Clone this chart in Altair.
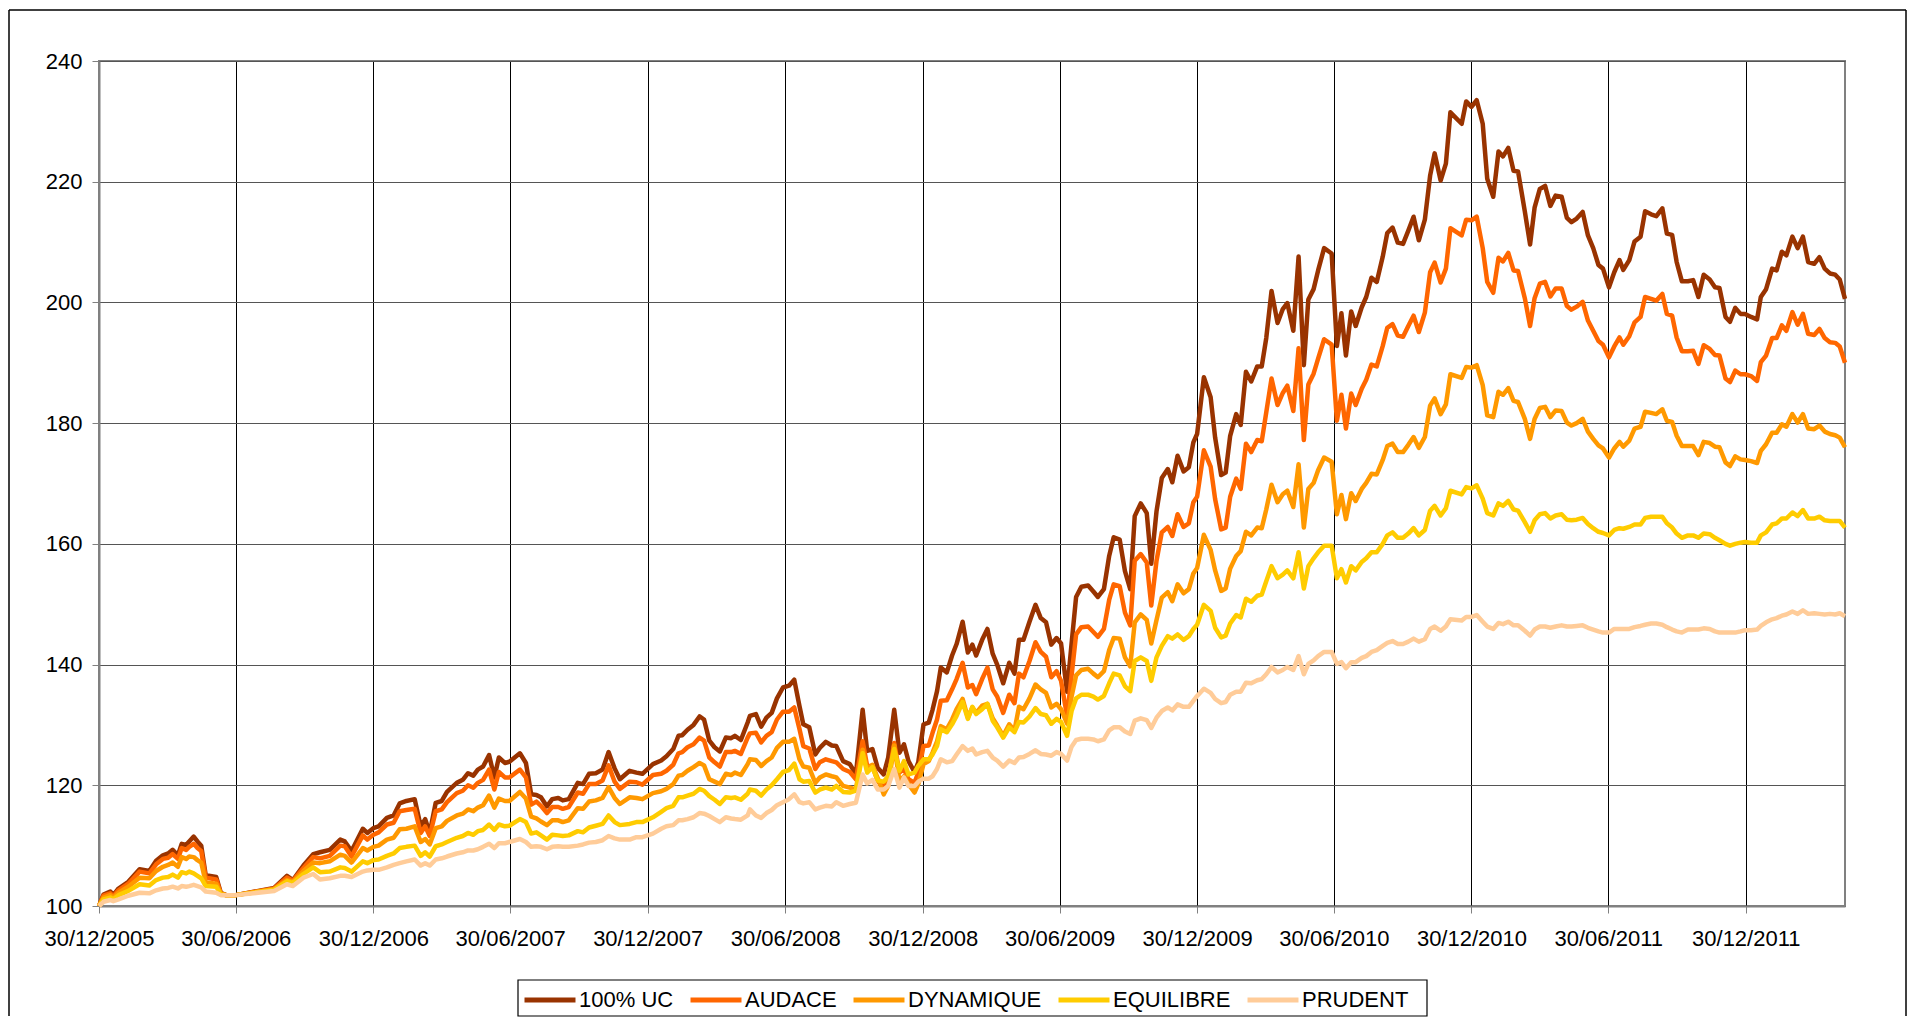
import altair as alt
import pandas as pd

START = "2005-12-30"

# day offsets from 30/12/2005 (common to all series)
DAYS = [
    0, 6, 15, 19, 26, 39, 54, 67, 76, 85, 92, 98, 105, 110, 116, 120, 126, 131, 136, 142, 156, 162, 169, 182, 233, 250, 258, 272, 285,
    294, 307, 321, 327, 336, 351, 357, 365, 372, 383, 392, 400, 409, 420, 428, 434, 440, 448, 456, 463, 476, 484, 491, 498, 504, 511, 519, 526, 532, 540, 546, 560, 568, 575,
    582, 588, 596, 603, 611, 617, 625, 637, 644, 652, 661, 670, 678, 686, 693, 706, 715, 723, 737, 748, 755, 764, 771, 776, 783, 791, 799, 805, 812, 819, 826, 834, 841, 846, 854, 863,
    866, 874, 881, 888, 895, 902, 910, 918, 925, 932, 937, 945, 953, 959, 967, 975, 981, 990, 999, 1007, 1016, 1022, 1029, 1036, 1044, 1050, 1058, 1065, 1071, 1077, 1085, 1090, 1097, 1104, 1109, 1115, 1120, 1128, 1135, 1141, 1149, 1156,
    1162, 1167, 1175, 1182, 1189, 1195, 1203, 1211, 1218, 1224, 1230, 1238, 1246, 1253, 1260, 1267, 1274, 1280, 1288, 1294, 1300, 1307, 1316, 1323, 1329, 1337, 1344, 1350, 1358, 1365, 1372, 1378, 1386, 1394, 1400, 1407, 1414, 1422, 1428, 1435, 1443, 1450, 1456, 1461,
    1470, 1479, 1485, 1493, 1499, 1505, 1513, 1519, 1526, 1533, 1541, 1547, 1553, 1560, 1568, 1575, 1581, 1589, 1596, 1603, 1609, 1616, 1622, 1630, 1640, 1647, 1653, 1659, 1666, 1672, 1680, 1686, 1693, 1700, 1708, 1714, 1721, 1728, 1735, 1742, 1749, 1756,
    1764, 1771, 1777, 1785, 1792, 1798, 1813, 1819, 1826, 1833, 1841, 1847, 1855, 1862, 1868, 1875, 1882, 1888, 1897, 1904, 1910, 1917, 1924, 1931, 1938, 1946, 1953, 1959, 1966, 1974, 1981, 1988, 1995, 2001, 2009, 2016, 2023, 2028, 2036,
    2043, 2051, 2057, 2065, 2072, 2080, 2086, 2093, 2099, 2106, 2114, 2121, 2128, 2135, 2143, 2150, 2156, 2164, 2170, 2177, 2184, 2190, 2198, 2206, 2211, 2218, 2226, 2232, 2239, 2245, 2253, 2260, 2267, 2274, 2282, 2289, 2296, 2303, 2310, 2316, 2323,
]

UC = [
    100, 101.9, 102.4, 101.8, 102.9, 104.0, 106.1, 105.8, 107.5, 108.4, 108.7, 109.3, 108.4, 110.3, 110.1, 110.7, 111.5, 110.7, 110.0, 105.1, 104.8, 102.2, 101.8, 101.8, 103.0, 105.0, 104.3, 106.7, 108.6,
    108.9, 109.3, 111.0, 110.7, 109.1, 112.8, 112.1, 112.9, 113.2, 114.6, 115.0, 117.0, 117.4, 117.7, 113.2, 114.4, 112.1, 117.1, 117.4, 118.9, 120.4, 120.9, 122.0, 121.6, 122.6, 123.1, 125.0, 121.3, 124.6, 123.7, 123.9, 125.3, 123.7, 118.5,
    118.4, 118.0, 116.5, 117.7, 117.9, 117.5, 117.7, 120.4, 120.2, 121.9, 122.0, 122.6, 125.5, 122.8, 121.0, 122.4, 122.1, 121.9, 123.5, 124.1, 124.8, 126.0, 128.2, 128.3, 129.2, 130.0, 131.4, 130.9, 127.4, 126.3, 125.6, 127.9, 127.8, 128.2, 127.5, 130.4,
    131.5, 131.8, 129.7, 131.2, 132.0, 134.4, 136.2, 136.5, 137.5, 133.1, 130.1, 129.6, 125.1, 126.2, 127.2, 126.6, 126.5, 124.0, 123.5, 121.8, 132.5, 125.7, 126.0, 122.9, 121.8, 124.6, 132.5, 125.4, 126.8, 124.0, 122.2, 123.8, 130.1, 130.4, 132.5, 135.6, 139.5, 138.7, 141.5, 143.4, 147.1, 142.0,
    143.3, 141.5, 144.1, 145.9, 141.8, 140.0, 136.9, 140.3, 138.5, 144.1, 144.1, 147.1, 149.9, 147.7, 147.0, 143.3, 144.4, 143.5, 135.5, 143.5, 151.2, 152.9, 153.1, 152.1, 151.2, 152.5, 158.0, 161.1, 160.7, 155.5, 152.5, 164.6, 166.7, 165.1, 156.7, 165.4, 170.9, 172.4, 170.2, 174.6, 172.0, 172.7, 176.8, 178.2,
    187.6, 184.3, 177.6, 171.4, 171.8, 177.9, 181.5, 179.7, 188.5, 186.9, 189.4, 189.4, 194.1, 201.9, 196.6, 198.9, 199.9, 195.3, 207.6, 189.6, 200.5, 202.2, 205.3, 209.0, 208.1, 192.8, 198.2, 191.2, 198.5, 196.1, 199.2, 200.9, 204.1, 203.4, 207.6, 211.5, 212.4, 209.9, 209.7, 211.9, 214.2, 210.3,
    213.7, 221.0, 224.7, 220.2, 223.0, 231.5, 229.6, 233.3, 232.4, 233.5, 229.6, 220.5, 217.5, 225.0, 224.2, 225.6, 221.8, 221.7, 215.1, 209.6, 215.7, 218.8, 219.3, 216.0, 217.7, 217.5, 214.0, 213.3, 213.9, 215.0, 211.1, 209.0, 206.2, 205.6, 202.5, 205.0, 207.0, 205.4, 207.0,
    210.1, 210.9, 215.1, 214.6, 214.3, 215.6, 211.4, 211.2, 206.7, 203.5, 203.5, 203.7, 200.9, 204.6, 203.8, 202.5, 202.4, 197.6, 196.8, 199.1, 198.1, 198.1, 197.6, 197.2, 200.9, 202.2, 205.6, 205.3, 208.4, 207.8, 210.9, 209.0, 210.9, 206.7, 206.4, 207.5, 205.6, 204.8, 204.6, 203.8, 200.6,
]

AUDACE = [
    100, 101.7, 102.1, 101.6, 102.6, 103.7, 105.7, 105.4, 106.9, 107.8, 108.0, 108.6, 107.8, 109.6, 109.3, 109.8, 110.3, 109.6, 109.1, 104.7, 104.4, 102.1, 101.8, 101.8, 102.9, 104.7, 104.2, 106.3, 108.1,
    107.9, 108.3, 110.0, 109.9, 108.2, 111.7, 111.0, 111.8, 112.2, 113.5, 113.8, 115.7, 115.9, 116.1, 112.1, 113.2, 111.6, 115.7, 116.0, 117.2, 118.7, 119.1, 120.0, 119.6, 120.4, 120.9, 122.6, 119.3, 122.2, 121.3, 121.3, 122.6, 121.3, 116.8,
    117.3, 116.6, 115.4, 116.4, 116.4, 116.1, 116.4, 118.8, 118.6, 120.2, 120.2, 120.8, 123.3, 120.6, 119.4, 120.6, 120.5, 120.1, 121.7, 121.9, 122.4, 123.4, 125.3, 125.5, 126.3, 126.8, 127.9, 127.4, 124.6, 123.8, 123.1, 125.5, 125.5, 125.7, 125.2, 127.9,
    128.6, 128.7, 127.1, 128.2, 128.8, 130.9, 132.2, 132.2, 132.9, 129.3, 126.5, 126.1, 122.7, 123.8, 124.3, 124.0, 123.8, 122.7, 122.2, 121.0, 127.3, 123.2, 123.2, 120.7, 119.6, 121.1, 127.0, 122.1, 122.7, 121.0, 120.4, 122.1, 126.5, 126.6, 128.7, 130.9, 134.0, 134.1, 135.9, 137.6, 140.3, 136.2,
    136.6, 135.1, 137.6, 139.5, 135.9, 134.7, 132.0, 135.0, 133.6, 138.5, 137.9, 140.6, 143.7, 142.1, 141.3, 137.9, 138.9, 137.3, 131.4, 138.2, 145.0, 146.2, 146.3, 145.4, 144.6, 145.9, 150.7, 153.3, 153.0, 148.6, 146.5, 157.2, 158.3, 156.9, 149.8, 157.2, 161.9, 162.8, 161.3, 164.9, 162.8, 163.4, 166.9, 167.8,
    175.5, 172.8, 167.4, 162.4, 162.7, 167.8, 170.8, 169.1, 176.6, 175.2, 177.2, 177.0, 181.8, 187.4, 183.0, 185.0, 186.2, 182.0, 192.4, 177.2, 186.4, 188.2, 190.7, 193.9, 193.0, 180.4, 184.7, 179.1, 184.9, 183.0, 185.7, 187.2, 189.7, 189.4, 192.8, 195.8, 196.4, 194.5, 194.3, 196.1, 197.8, 195.1,
    198.3, 205.0, 206.6, 203.3, 205.6, 212.3, 211.1, 213.7, 213.6, 214.2, 209.0, 203.4, 201.6, 207.4, 206.8, 208.2, 205.3, 205.2, 200.7, 196.1, 200.7, 203.1, 203.4, 201.0, 202.3, 202.3, 199.4, 198.8, 199.3, 200.1, 197.0, 195.3, 193.6, 193.0, 190.9, 192.7, 194.2, 193.0, 194.4,
    196.7, 197.6, 200.9, 200.6, 200.3, 201.4, 198.1, 197.8, 194.2, 191.9, 191.9, 192.0, 189.8, 192.9, 192.3, 191.3, 191.2, 187.4, 186.8, 188.7, 188.1, 188.1, 187.8, 187.0, 190.1, 191.2, 194.1, 194.1, 196.2, 195.3, 198.4, 196.3, 198.1, 194.8, 194.6, 195.6, 194.1, 193.4, 193.3, 192.7, 190.0,
]

DYNAMIQUE = [
    100, 101.4, 101.8, 101.4, 102.2, 103.2, 104.7, 104.6, 105.8, 106.5, 106.8, 107.2, 106.5, 108.1, 107.8, 108.2, 108.1, 107.6, 107.2, 103.9, 103.7, 102.1, 101.8, 101.8, 102.8, 104.3, 104.0, 105.8, 107.2,
    107.1, 107.4, 108.5, 108.3, 107.2, 109.6, 109.2, 109.8, 110.0, 111.0, 111.3, 112.7, 112.8, 113.2, 110.6, 111.1, 110.2, 112.9, 113.2, 114.1, 115.0, 115.3, 116.0, 115.7, 116.3, 116.7, 118.3, 116.3, 117.8, 117.4, 117.4, 118.9, 117.8, 114.8,
    114.5, 114.0, 113.4, 114.2, 114.2, 113.9, 114.2, 116.2, 116.1, 117.3, 117.5, 117.9, 119.7, 117.9, 116.9, 118.0, 117.9, 117.7, 118.7, 119.0, 119.4, 120.2, 121.6, 121.7, 122.4, 123.0, 123.7, 123.3, 121.0, 120.6, 120.2, 121.9, 121.7, 122.1, 121.7, 123.5,
    124.3, 124.2, 123.2, 124.0, 124.6, 126.2, 127.2, 127.2, 127.7, 124.3, 123.1, 122.9, 120.4, 121.3, 121.8, 121.5, 121.3, 119.9, 119.6, 119.3, 125.9, 122.6, 123.4, 121.2, 118.5, 119.9, 126.6, 120.7, 121.5, 120.2, 118.8, 120.2, 123.5, 124.0, 125.4, 127.3, 129.8, 129.3, 130.9, 132.6, 134.3, 131.2,
    132.9, 132.0, 133.2, 133.5, 131.1, 129.9, 128.2, 130.1, 129.1, 133.0, 132.6, 134.4, 136.7, 135.9, 135.3, 132.9, 133.5, 132.6, 130.2, 134.7, 138.2, 139.1, 139.3, 138.5, 137.9, 138.9, 142.4, 144.4, 144.3, 141.2, 139.7, 147.0, 148.3, 147.4, 143.5, 147.4, 151.1, 152.0, 150.5, 153.3, 151.8, 152.5, 155.1, 156.0,
    161.5, 159.0, 155.6, 152.2, 152.6, 155.9, 158.0, 158.8, 162.0, 161.4, 162.7, 162.6, 165.7, 169.8, 166.9, 168.2, 168.8, 166.1, 173.2, 162.7, 169.1, 170.1, 172.2, 174.3, 173.6, 164.9, 168.1, 164.1, 168.4, 167.1, 169.1, 170.1, 171.6, 171.5, 173.9, 176.2, 176.6, 175.2, 175.2, 176.4, 177.7, 175.9,
    177.7, 182.9, 184.1, 181.5, 183.1, 188.1, 187.5, 189.3, 189.2, 189.6, 186.3, 181.3, 181.0, 185.2, 184.7, 185.8, 183.7, 183.5, 180.7, 177.4, 180.7, 182.5, 182.7, 181.0, 182.1, 182.0, 180.1, 179.6, 180.0, 180.7, 178.6, 177.4, 176.3, 175.8, 174.3, 175.8, 176.9, 176.1, 177.1,
    179.1, 179.4, 181.9, 181.7, 181.5, 182.3, 180.4, 180.2, 177.9, 176.2, 176.2, 176.2, 174.7, 176.9, 176.7, 176.1, 176.0, 173.5, 172.9, 174.5, 174.0, 173.9, 173.7, 173.4, 175.4, 176.5, 178.4, 178.4, 179.8, 179.4, 181.5, 180.1, 181.5, 179.1, 179.0, 179.6, 178.6, 178.2, 178.0, 177.6, 176.0,
]

EQUILIBRE = [
    100, 101.1, 101.4, 101.1, 101.8, 102.5, 103.6, 103.4, 104.3, 104.7, 104.8, 105.2, 104.7, 105.6, 105.4, 105.7, 105.4, 105.0, 104.6, 103.3, 103.2, 101.9, 101.8, 101.8, 102.7, 104.1, 103.8, 105.3, 106.4,
    105.6, 105.7, 106.4, 106.3, 105.7, 107.4, 107.1, 107.6, 107.7, 108.3, 108.7, 109.6, 109.8, 110.0, 108.3, 108.9, 108.2, 109.9, 110.2, 110.6, 111.3, 111.6, 112.1, 111.8, 112.4, 112.6, 113.5, 112.6, 113.5, 113.2, 113.3, 114.4, 113.9, 112.0,
    112.2, 111.7, 111.0, 111.8, 111.7, 111.6, 111.7, 112.4, 112.2, 113.0, 113.3, 113.6, 115.0, 113.9, 113.4, 113.6, 113.9, 113.9, 114.7, 115.6, 116.2, 116.6, 118.0, 118.0, 118.3, 118.6, 119.4, 119.1, 118.2, 117.6, 116.9, 118.0, 117.9, 118.0, 117.6, 118.6,
    119.3, 119.1, 118.3, 119.3, 120.0, 121.0, 122.2, 122.5, 123.6, 121.0, 120.6, 120.7, 118.8, 119.3, 119.6, 119.3, 119.9, 118.9, 118.8, 119.1, 125.3, 122.1, 123.0, 120.8, 120.6, 121.5, 126.0, 122.4, 124.0, 121.8, 122.1, 123.2, 124.3, 124.3, 125.1, 126.5, 129.3, 128.8, 130.1, 131.5, 133.8, 131.0,
    133.0, 131.8, 132.6, 133.5, 130.7, 129.6, 127.9, 129.6, 128.8, 130.5, 130.4, 131.4, 132.8, 131.8, 131.6, 130.2, 131.0, 130.5, 128.2, 132.3, 134.4, 135.0, 135.0, 134.7, 134.2, 134.8, 136.9, 138.5, 138.2, 136.4, 135.6, 140.6, 141.2, 140.6, 137.3, 141.2, 143.1, 144.7, 144.3, 145.0, 144.1, 144.7, 145.9, 146.6,
    149.9, 148.9, 146.1, 144.5, 144.8, 146.8, 148.2, 147.8, 150.9, 150.4, 151.4, 151.6, 153.8, 156.3, 154.3, 154.9, 155.6, 154.3, 158.6, 152.6, 156.3, 157.6, 158.6, 159.7, 159.7, 154.3, 155.8, 153.6, 156.3, 155.6, 157.0, 157.6, 158.6, 158.6, 160.0, 161.4, 161.9, 161.0, 161.0, 161.7, 162.6, 161.4,
    162.3, 165.5, 166.3, 164.7, 165.9, 168.8, 168.2, 169.4, 169.2, 169.7, 167.5, 165.1, 164.7, 166.7, 166.3, 167.1, 165.7, 165.5, 163.6, 162.0, 163.9, 164.9, 165.1, 164.2, 164.7, 164.9, 164.0, 163.9, 164.0, 164.3, 163.3, 162.6, 162.0, 161.8, 161.4, 162.3, 162.6, 162.5, 162.8,
    163.2, 163.2, 164.3, 164.5, 164.5, 164.5, 163.4, 162.7, 161.7, 161.0, 161.4, 161.4, 161.0, 161.7, 161.6, 161.0, 160.6, 160.0, 159.7, 160.0, 160.2, 160.3, 160.2, 160.2, 161.4, 161.9, 163.2, 163.4, 164.2, 164.2, 165.2, 164.6, 165.6, 164.2, 164.2, 164.5, 163.9, 163.8, 163.8, 163.8, 162.7,
]

PRUDENT = [
    100, 100.7, 101.0, 100.8, 101.1, 101.7, 102.2, 102.1, 102.6, 102.9, 103.0, 103.2, 102.9, 103.3, 103.2, 103.3, 103.5, 103.3, 103.1, 102.4, 102.2, 101.8, 101.8, 101.8, 102.5, 103.6, 103.3, 104.7, 105.3,
    104.4, 104.6, 105.0, 105.0, 104.8, 105.7, 105.9, 106.0, 106.0, 106.4, 106.8, 107.1, 107.4, 107.7, 106.7, 107.1, 106.7, 107.7, 107.9, 108.2, 108.7, 108.9, 109.2, 109.2, 109.4, 109.8, 110.3, 109.6, 110.4, 110.4, 110.6, 111.1, 110.6, 109.8,
    109.9, 109.8, 109.4, 109.8, 109.9, 109.8, 109.8, 110.0, 110.2, 110.5, 110.6, 110.9, 111.6, 111.2, 111.0, 111.0, 111.4, 111.4, 112.0, 112.8, 113.2, 113.4, 114.2, 114.2, 114.4, 114.7, 115.4, 115.3, 114.9, 114.4, 113.9, 114.7, 114.5, 114.4, 114.3, 115.0,
    116.0, 115.0, 114.6, 115.4, 115.9, 116.7, 117.2, 117.7, 118.5, 117.2, 117.0, 117.2, 116.0, 116.3, 116.6, 116.5, 117.2, 116.6, 116.9, 117.1, 121.8, 120.3, 120.9, 119.3, 119.3, 119.9, 122.7, 119.6, 121.3, 119.9, 119.9, 120.6, 121.1, 121.1, 121.5, 122.7, 124.3, 123.8, 124.0, 125.1, 126.5, 125.7,
    126.1, 125.1, 125.5, 125.7, 124.6, 124.1, 123.1, 124.1, 123.7, 124.6, 124.7, 125.2, 125.8, 125.2, 125.1, 124.9, 125.5, 125.2, 124.1, 126.4, 127.5, 127.7, 127.7, 127.6, 127.3, 127.6, 129.1, 129.6, 129.6, 128.9, 128.5, 130.7, 131.1, 130.8, 129.5, 131.2, 132.3, 132.9, 132.4, 133.4, 133.0, 133.0, 134.0, 134.8,
    136.0, 135.3, 134.3, 133.6, 133.8, 135.0, 135.5, 135.5, 137.0, 136.9, 137.4, 137.6, 138.4, 139.6, 138.7, 139.1, 139.6, 139.1, 141.4, 138.4, 140.1, 140.7, 141.4, 142.1, 142.1, 140.1, 140.4, 139.4, 140.4, 140.4, 141.1, 141.4, 142.1, 142.4, 143.1, 143.6, 143.9, 143.4, 143.4, 143.8, 144.3, 143.8,
    144.2, 145.9, 146.3, 145.6, 146.3, 147.5, 147.3, 147.9, 147.9, 148.2, 147.1, 146.3, 145.9, 146.9, 146.7, 147.1, 146.5, 146.5, 145.6, 144.8, 145.8, 146.3, 146.3, 146.1, 146.3, 146.5, 146.3, 146.3, 146.4, 146.5, 146.1, 145.8, 145.5, 145.3, 145.3, 145.9, 145.9, 145.9, 145.9,
    146.2, 146.4, 146.6, 146.8, 146.8, 146.6, 146.2, 145.8, 145.5, 145.3, 145.8, 145.8, 145.8, 146.0, 145.9, 145.5, 145.3, 145.3, 145.3, 145.3, 145.5, 145.7, 145.7, 145.8, 146.4, 147.0, 147.5, 147.7, 148.1, 148.3, 148.8, 148.4, 149.0, 148.4, 148.5, 148.4, 148.3, 148.4, 148.3, 148.5, 148.0,
]

SERIES = ["100% UC", "AUDACE", "DYNAMIQUE", "EQUILIBRE", "PRUDENT"]
COLORS = ["#993300", "#FF6600", "#FF9900", "#FFCC00", "#FFCC99"]
TICK_DATES = ["2005-12-30", "2006-06-30", "2006-12-30", "2007-06-30", "2007-12-30",
              "2008-06-30", "2008-12-30", "2009-06-30", "2009-12-30", "2010-06-30",
              "2010-12-30", "2011-06-30", "2011-12-30"]
Y_TICKS = [100, 120, 140, 160, 180, 200, 220, 240]

start = pd.Timestamp(START)
rows = []
for name, vals in zip(SERIES, [UC, AUDACE, DYNAMIQUE, EQUILIBRE, PRUDENT]):
    for d, v in zip(DAYS, vals):
        rows.append({"date": (start + pd.Timedelta(days=d)).strftime("%Y-%m-%d"),
                     "value": v, "series": name})
df = pd.DataFrame(rows)


def to_ms(s):
    return int(pd.Timestamp(s, tz="UTC").timestamp() * 1000)


last_date = (start + pd.Timedelta(days=DAYS[-1])).strftime("%Y-%m-%d")
x_domain = [to_ms(START), to_ms(last_date)]
tick_vals = [to_ms(t) for t in TICK_DATES]

FONT = "Liberation Sans"

x_enc = alt.X("date:T",
              scale=alt.Scale(type="utc", domain=x_domain),
              axis=alt.Axis(values=tick_vals, format="%d/%m/%Y", title=None,
                            grid=True, gridColor="#000000", gridWidth=1, gridOpacity=1,
                            domainColor="#808080", domainWidth=2,
                            tickColor="#808080", tickSize=7, tickWidth=1,
                            labelFont=FONT, labelFontSize=22, labelColor="#000000",
                            labelPadding=15, labelOverlap=False, labelFlush=False))
y_enc = alt.Y("value:Q",
              scale=alt.Scale(domain=[100, 240], nice=False, zero=False),
              axis=alt.Axis(values=Y_TICKS, title=None, grid=True,
                            gridColor="#555555", gridWidth=1, gridOpacity=1,
                            domainColor="#808080", domainWidth=2,
                            tickColor="#808080", tickSize=7, tickWidth=1,
                            labelFont=FONT, labelFontSize=22, labelColor="#000000",
                            labelPadding=10))
color_enc = alt.Color("series:N",
                      scale=alt.Scale(domain=SERIES, range=COLORS),
                      legend=alt.Legend(title=None, orient="none", legendX=417, legendY=905,
                                        direction="horizontal", symbolType="stroke",
                                        symbolStrokeWidth=5, symbolSize=2600,
                                        labelFont=FONT, labelFontSize=22, labelColor="#000000",
                                        labelOffset=1, columnPadding=6, padding=6,
                                        labelLimit=300))

layers = []
for name in SERIES:
    layers.append(
        alt.Chart(df).transform_filter(alt.datum.series == name)
        .mark_line(strokeWidth=4.5, strokeJoin="round")
        .encode(x=x_enc, y=y_enc, color=color_enc)
    )

deco = pd.DataFrame({"k": [0]})
FRAME_L, FRAME_R, FRAME_T, FRAME_B = -90, 1807, -51, 955
# outer chart frame: left, top and right edges (bottom edge lies below the window)
frame_left = alt.Chart(deco).mark_rule(color="#000000", strokeWidth=1.5).encode(
    x=alt.value(FRAME_L), y=alt.value(FRAME_T), y2=alt.value(FRAME_B))
frame_right = alt.Chart(deco).mark_rule(color="#000000", strokeWidth=1.5).encode(
    x=alt.value(FRAME_R), y=alt.value(FRAME_T), y2=alt.value(FRAME_B))
frame_top = alt.Chart(deco).mark_rule(color="#000000", strokeWidth=1.5).encode(
    x=alt.value(FRAME_L), x2=alt.value(FRAME_R), y=alt.value(FRAME_T))
# legend box
legend_box = alt.Chart(deco).mark_rect(
    fillOpacity=0, stroke="#000000", strokeWidth=1.2
).encode(x=alt.value(419), x2=alt.value(1328), y=alt.value(919), y2=alt.value(955))

chart = alt.layer(frame_left, frame_right, frame_top, legend_box, *layers).properties(
    width=1746, height=845,
    autosize=alt.AutoSizeParams(type="pad"),
    padding={"left": 0, "top": 1, "right": 0, "bottom": 0},
    background="#FFFFFF",
).configure_view(stroke="#808080", strokeWidth=2)

chart.save("out.html", embed_options={"renderer": "svg", "actions": False})
